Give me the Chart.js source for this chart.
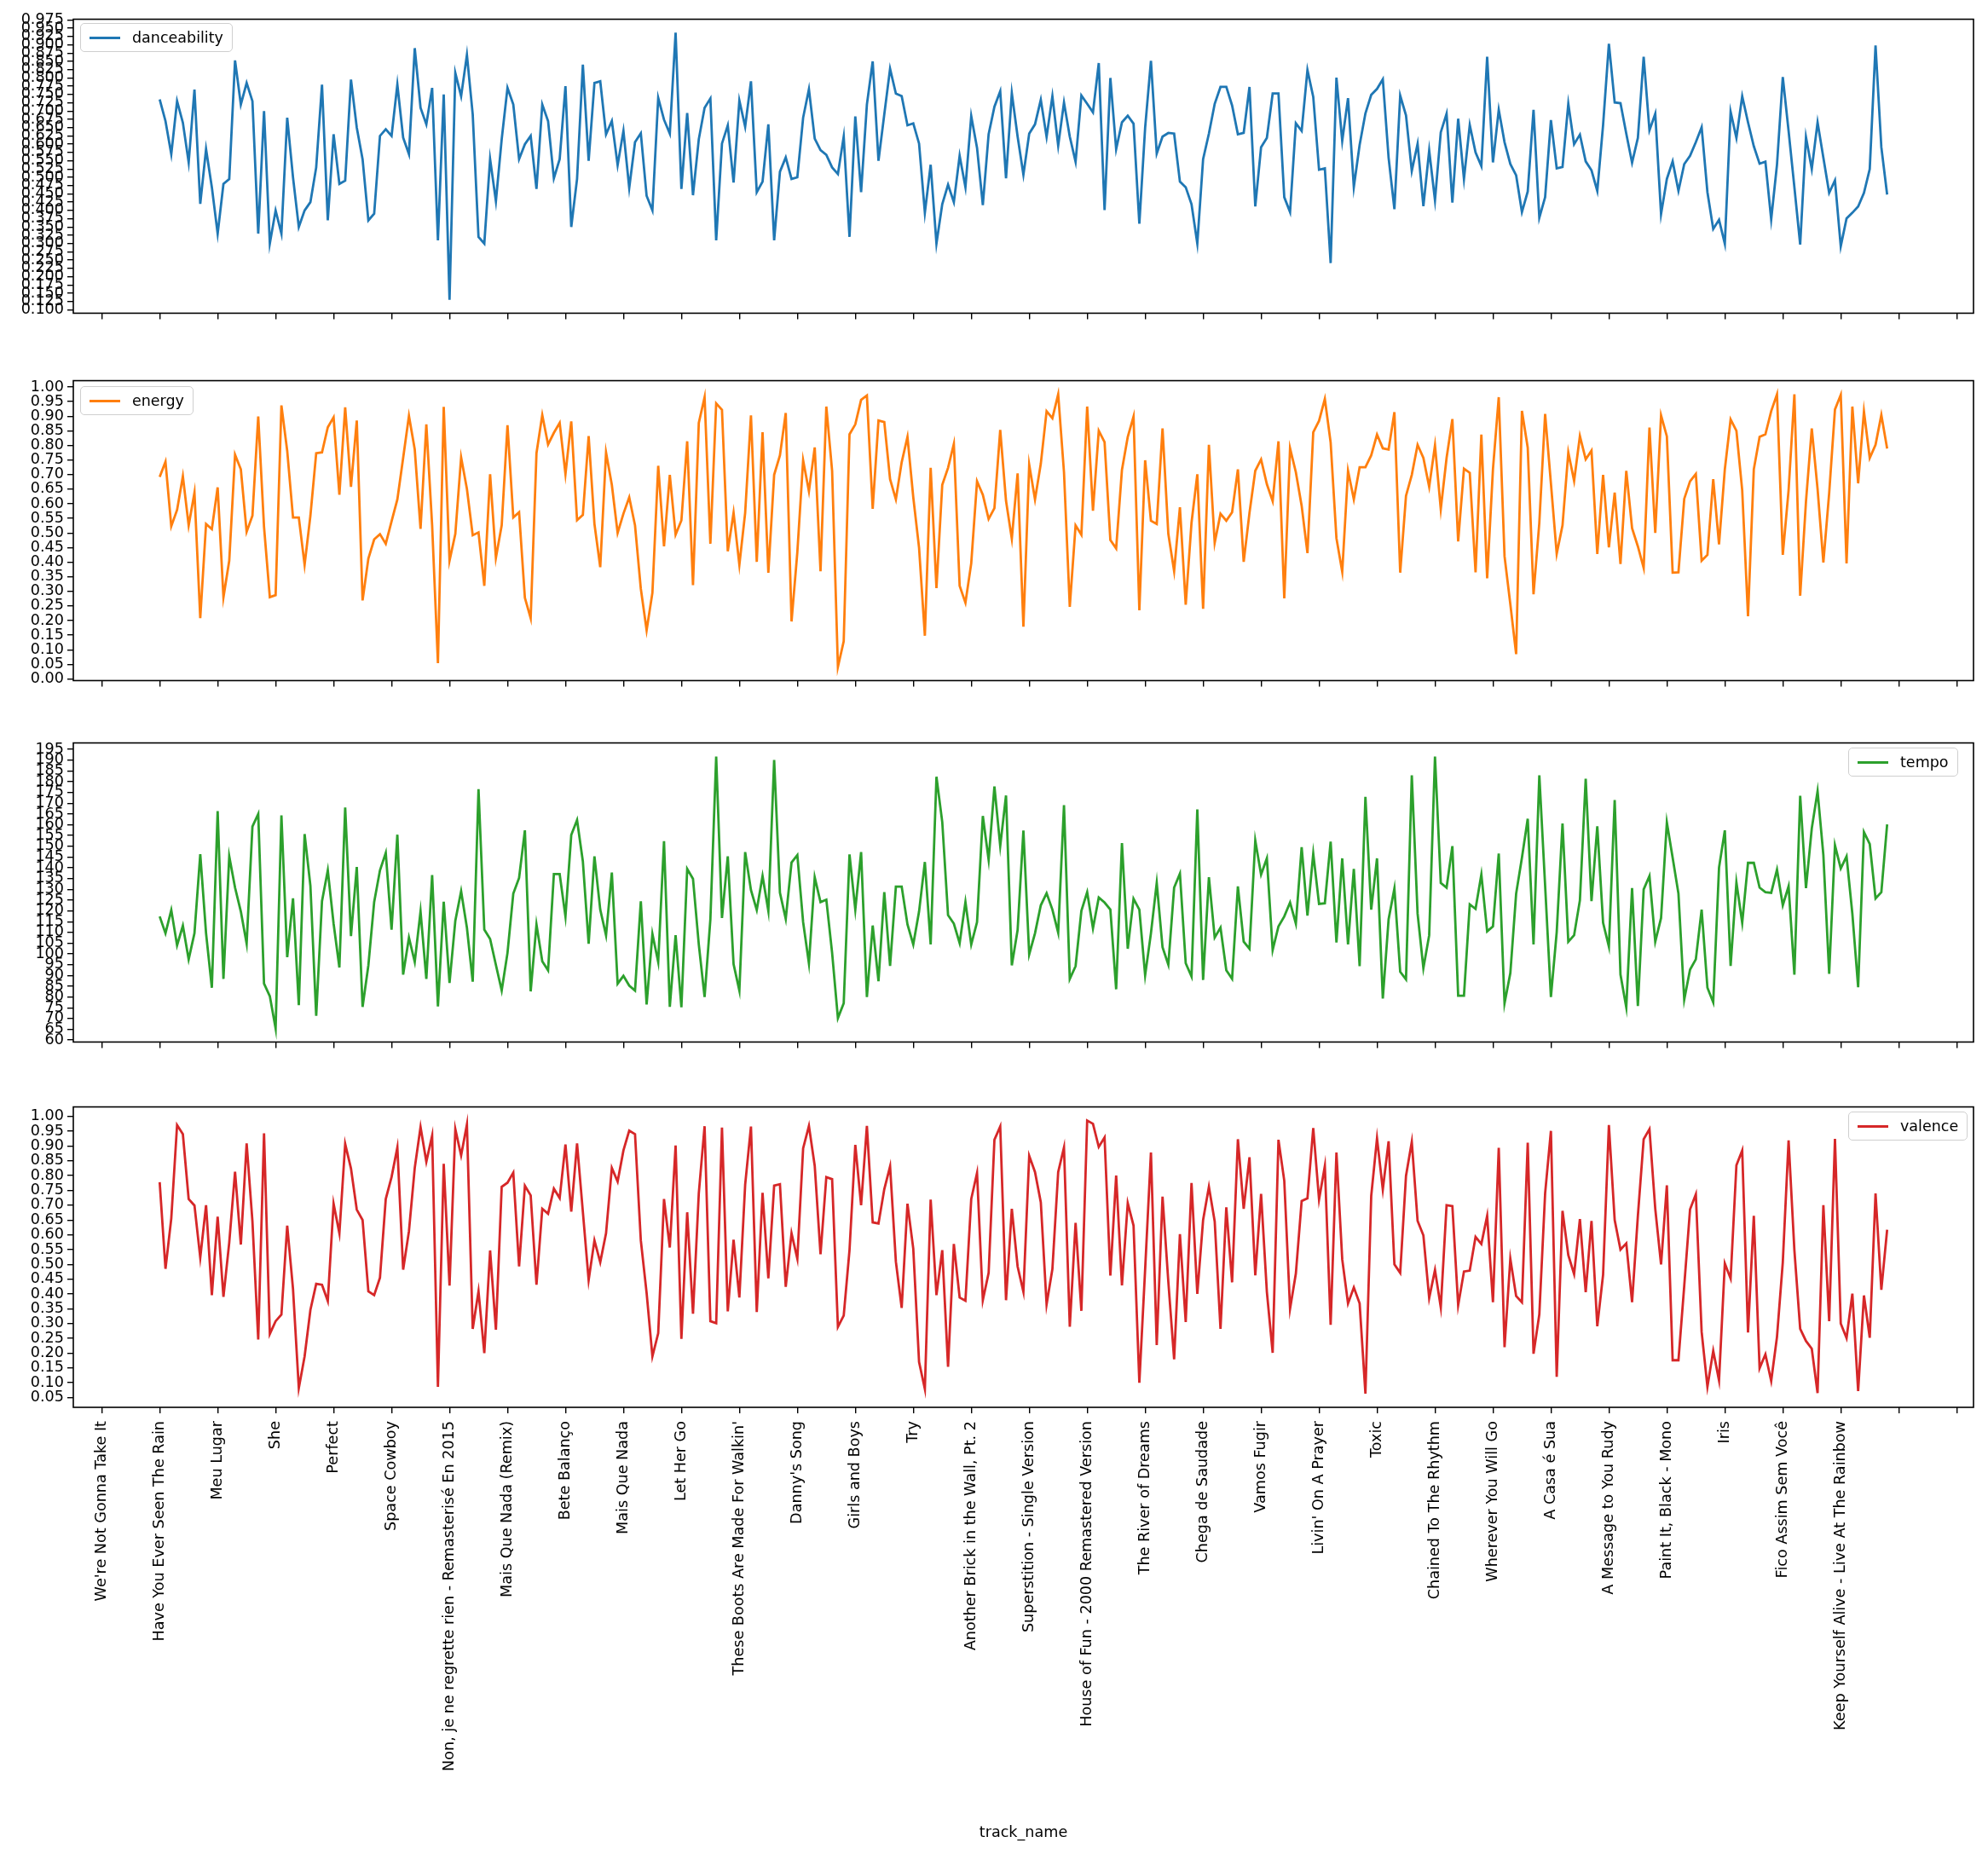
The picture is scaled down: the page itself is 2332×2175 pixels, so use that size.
<!DOCTYPE html>
<html>
<head>
<meta charset="utf-8">
<script src="https://cdn.jsdelivr.net/npm/chart.js@4.4.1/dist/chart.umd.min.js"></script>
<style>
  body { margin: 0; background: #fff; font-family: "DejaVu Sans", sans-serif; }
  #wrap { position: relative; width: 2332px; height: 2175px; }
  canvas { position: absolute; left: 0; }
  .legend {
    position: absolute; border: 1px solid #cfcfcf; border-radius: 5px; background: rgba(255,255,255,0.85);
    font: 17.5px "DejaVu Sans", sans-serif; color: #000; padding: 6px 10px; display: flex; align-items: center;
  }
  .legend span.sw { display: inline-block; width: 36px; height: 3px; margin-right: 14px; }
</style>
</head>
<body>
<div id="wrap">
  <canvas id="c0" width="2332" height="374" style="top:8px"></canvas>
  <canvas id="c1" width="2332" height="381" style="top:432px"></canvas>
  <canvas id="c2" width="2332" height="380" style="top:857px"></canvas>
  <canvas id="c3" width="2332" height="891" style="top:1284px"></canvas>
  <div class="legend" style="left:94px;top:27px"><span class="sw" style="background:#1f77b4"></span>danceability</div>
  <div class="legend" style="left:94px;top:453px"><span class="sw" style="background:#ff7f0e"></span>energy</div>
  <div class="legend" style="left:2168px;top:877px"><span class="sw" style="background:#2ca02c"></span>tempo</div>
  <div class="legend" style="left:2168px;top:1304px"><span class="sw" style="background:#d62728"></span>valence</div>
</div>
<script>
// tick labels shown every 10 tracks, starting at position -10
const trackTicks = [
  "We're Not Gonna Take It", "Have You Ever Seen The Rain", "Meu Lugar", "She", "Perfect", "Space Cowboy",
  "Non, je ne regrette rien - Remasterisé En 2015", "Mais Que Nada (Remix)", "Bete Balanço", "Mais Que Nada",
  "Let Her Go", "These Boots Are Made For Walkin'", "Danny's Song", "Girls and Boys", "Try",
  "Another Brick in the Wall, Pt. 2", "Superstition - Single Version", "House of Fun - 2000 Remastered Version",
  "The River of Dreams", "Chega de Saudade", "Vamos Fugir", "Livin' On A Prayer", "Toxic", "Chained To The Rhythm",
  "Wherever You Will Go", "A Casa é Sua", "A Message to You Rudy", "Paint It, Black - Mono", "Iris",
  "Fico Assim Sem Você", "Keep Yourself Alive - Live At The Rainbow"
];
const tickPositions = [-10,0,10,20,30,40,50,60,70,80,90,100,110,120,130,140,150,160,170,180,190,200,210,220,230,240,250,260,270,280,290,300,310];

const danceability = [
0.735,0.67,0.57,0.73,0.665,0.545,0.765,0.42,0.585,0.47,0.33,0.48,0.495,0.853,0.72,0.785,0.73,0.33,0.70,0.30,
0.40,0.33,0.68,0.50,0.35,0.40,0.425,0.53,0.78,0.37,0.63,0.48,0.49,0.795,0.65,0.555,0.37,0.39,0.625,0.645,
0.625,0.78,0.62,0.57,0.89,0.71,0.66,0.77,0.31,0.75,0.13,0.815,0.745,0.87,0.69,0.32,0.30,0.555,
0.428,0.615,0.77,0.72,0.555,0.60,0.625,0.465,0.72,0.67,0.497,0.555,0.775,0.35,0.495,0.84,0.55,0.785,0.79,0.63,
0.67,0.537,0.64,0.468,0.606,0.633,0.444,0.40,0.74,0.674,0.632,0.937,0.465,0.694,0.446,0.615,0.71,0.738,0.31,0.602,
0.657,0.484,0.732,0.653,0.79,0.455,0.487,0.66,0.31,0.517,0.56,0.495,0.50,0.68,0.766,0.617,0.582,0.568,0.53,0.51,
0.623,0.32,0.684,0.455,0.72,0.85,0.55,
0.69,0.828,0.753,0.745,0.657,0.663,0.602,0.393,0.538,0.30,0.419,0.478,0.425,0.565,0.47,0.685,0.589,0.416,0.63,0.713,
0.76,0.497,0.754,0.623,0.508,0.632,0.66,0.734,0.622,0.745,0.596,0.726,0.623,0.547,0.747,0.722,0.696,0.845,0.401,0.80,
0.585,0.666,0.686,0.662,0.36,0.65,0.852,0.572,0.623,0.634,0.632,0.487,0.47,0.419,0.30,0.555,0.632,0.722,0.773,0.773,
0.717,0.63,0.634,0.773,0.412,0.591,0.619,0.753,0.753,
0.44,0.395,0.663,0.64,0.824,0.743,0.523,0.527,0.241,0.801,0.61,0.739,0.471,0.598,0.693,0.749,0.767,0.796,0.559,0.404,
0.747,0.687,0.519,0.601,0.413,0.581,0.431,0.636,0.692,0.424,0.677,0.495,0.658,0.575,0.534,0.864,0.545,0.704,0.606,0.54,
0.506,0.395,0.457,0.704,0.378,0.44,0.673,0.527,0.531,0.722,0.60,0.629,0.548,0.521,0.459,0.658,0.903,0.726,0.724,0.632,
0.544,0.619,0.864,0.642,0.692,0.389,0.495,0.548,0.459,0.54,0.565,0.606,0.651,0.455,0.344,0.372,0.299,0.698,0.619,0.745,
0.666,0.594,0.541,0.547,0.373,0.538,0.803,0.64,0.47,0.297,0.621,0.525,0.666,0.559,0.453,0.491,0.292,0.376,0.393,0.412,
0.453,0.525,0.898,0.591,0.448
];

const energy = [
0.692,0.744,0.523,0.579,0.694,0.526,0.638,0.208,0.531,0.513,0.656,0.280,0.405,0.768,0.718,0.504,0.559,0.899,0.521,0.280,
0.287,0.937,0.781,0.553,0.553,0.391,0.559,0.773,0.776,0.862,0.896,0.631,0.930,0.658,0.885,0.269,0.412,0.478,0.496,0.463,
0.540,0.615,0.757,0.901,0.786,0.514,0.872,0.526,0.054,0.932,0.405,0.497,0.759,0.651,0.492,0.502,0.319,0.701,0.415,0.526,
0.869,0.553,0.571,0.278,0.208,0.773,0.904,0.803,0.843,0.877,0.702,0.882,0.544,0.562,0.832,0.531,0.383,0.776,0.665,0.500,
0.566,0.622,0.526,0.309,0.167,0.295,0.730,0.454,0.699,0.494,0.543,0.814,0.321,0.877,0.965,0.463,0.944,0.922,0.437,0.569,
0.391,0.569,0.903,0.401,0.845,0.364,0.699,0.766,0.911,0.197,0.434,0.749,0.643,0.793,0.369,0.933,0.713,0.041,0.129,0.838,
0.872,0.956,0.971,0.583,0.885,0.880,0.684,0.615,0.742,0.829,0.622,0.449,0.148,0.723,0.311,0.665,0.723,0.805,0.319,0.261,
0.396,0.677,0.631,0.548,0.585,0.853,0.610,0.480,0.704,
0.179,0.734,0.615,0.737,0.917,0.893,0.975,0.708,0.247,0.526,0.494,0.933,0.576,0.850,0.811,0.476,0.447,0.716,0.829,0.899,
0.235,0.749,0.542,0.531,0.858,0.497,0.369,0.588,0.254,0.535,0.701,0.240,0.802,0.466,0.566,0.542,0.571,0.718,0.401,0.569,
0.713,0.752,0.667,0.609,0.814,0.276,0.790,0.708,0.593,0.431,0.845,0.884,0.959,0.810,0.482,0.367,0.713,0.615,0.725,0.725,
0.766,0.837,0.790,0.786,0.914,0.364,0.627,0.699,0.802,0.757,0.658,0.800,0.582,0.757,0.890,0.471,0.720,0.706,0.365,0.837,
0.345,0.718,0.965,0.420,0.256,0.085,0.918,0.792,0.290,0.535,0.908,0.670,0.429,0.526,0.776,0.678,0.832,0.752,0.782,0.428,
0.699,0.451,0.638,0.394,0.713,0.516,0.454,0.380,0.861,0.500,0.903,0.831,0.364,0.365,0.617,0.677,0.702,0.405,0.425,0.684,
0.461,0.718,0.889,0.850,0.646,0.215,0.718,0.829,0.838,0.917,0.975,0.425,0.646,0.975,0.285,0.608,0.858,0.651,0.399,0.636,
0.923,0.973,0.396,0.933,0.670,0.916,0.757,0.802,0.904,0.789
];

const tempo = [
117.4,109.6,120.4,104.0,113.1,97.5,109.6,146.3,109.6,84.3,166.3,88.4,145.3,130.8,119.7,104.8,159.2,165.0,86.2,80.4,
65.4,164.4,98.5,125.8,76.2,155.7,131.7,71.3,124.5,138.8,114.1,93.7,168.0,108.3,140.4,75.4,94.7,124.1,138.8,146.9,
111.3,155.4,90.4,107.6,96.3,119.7,88.4,136.6,75.6,124.3,86.5,115.4,129.1,112.2,87.1,176.5,111.3,107.0,94.9,83.0,
100.5,128.0,135.3,157.4,82.6,113.7,96.6,92.4,137.1,137.1,117.4,155.3,162.2,143.0,104.7,145.3,120.6,108.6,137.8,86.2,
89.8,85.3,83.0,124.5,76.5,109.3,96.2,152.4,75.4,108.7,75.2,139.5,134.9,104.4,80.0,116.1,191.7,116.7,145.3,95.3,
83.0,147.3,129.7,120.4,136.2,120.0,190.1,128.4,116.3,142.5,145.9,114.8,95.6,135.6,124.1,125.2,100.5,70.2,77.1,146.2,
120.6,147.3,80.0,113.2,87.3,128.7,94.4,131.3,131.3,113.7,104.4,119.7,142.7,104.4,182.3,161.3,118.0,114.1,105.0,124.1,
104.4,114.8,164.1,143.7,177.8,150.1,173.6,94.7,111.1,157.3,99.8,
109.6,122.6,128.2,120.6,109.9,169.1,88.4,94.3,120.0,128.7,111.9,126.2,123.9,120.6,83.6,151.5,102.4,125.6,120.6,90.1,
109.6,133.0,103.1,95.0,130.8,137.3,95.7,89.5,167.1,87.9,135.6,107.6,112.2,92.4,88.4,131.4,105.7,102.4,152.7,136.9,
144.4,101.8,112.8,117.4,123.9,114.1,149.6,117.8,146.6,123.2,123.5,152.2,105.3,144.4,104.4,139.5,94.3,173.0,120.6,144.4,
79.3,116.1,130.4,91.7,88.2,183.0,118.7,93.4,108.7,191.7,133.0,130.8,150.1,80.6,80.6,123.0,120.9,136.9,110.5,112.8,
146.6,77.1,91.1,128.0,144.7,162.8,104.4,183.0,131.7,80.0,110.2,160.6,105.7,108.7,124.9,181.4,124.5,159.3,114.5,103.4,
171.5,90.4,75.2,130.6,75.8,130.0,136.2,105.7,116.7,161.1,144.7,128.0,78.8,92.7,97.5,120.6,84.3,77.5,140.1,157.4,
94.4,133.2,114.5,142.3,142.3,130.8,128.7,128.4,139.2,122.6,131.4,90.4,173.5,130.6,158.3,175.6,145.9,90.8,150.5,139.7,
145.3,118.7,84.5,156.6,151.1,125.8,128.7,160.2
];

const valence = [
0.778,0.485,0.655,0.971,0.940,0.721,0.699,0.523,0.700,0.396,0.661,0.390,0.574,0.813,0.567,0.909,0.645,0.246,0.943,0.265,
0.308,0.330,0.631,0.417,0.082,0.189,0.346,0.434,0.431,0.376,0.705,0.605,0.907,0.824,0.685,0.650,0.409,0.396,0.455,0.721,
0.795,0.895,0.482,0.612,0.826,0.964,0.847,0.935,0.086,0.840,0.428,0.957,0.868,0.973,0.282,0.409,0.200,0.547,0.279,0.762,
0.776,0.810,0.493,0.766,0.733,0.431,0.688,0.671,0.756,0.724,0.905,0.678,0.909,0.678,0.447,0.581,0.507,0.605,0.826,0.780,
0.885,0.952,0.940,0.581,0.403,0.189,0.267,0.721,0.557,0.902,0.248,0.676,0.333,0.740,0.967,0.308,0.301,0.962,0.341,0.583,
0.388,0.769,0.966,0.339,0.742,0.453,0.766,0.771,0.424,0.605,0.519,0.892,0.968,0.833,0.534,0.795,0.788,0.289,0.327,0.548,
0.904,0.700,0.968,0.642,0.638,0.754,0.831,0.509,0.353,0.705,0.553,0.170,0.079,0.719,0.396,0.548,0.154,0.569,0.388,0.377,
0.721,0.809,0.379,0.471,0.921,0.966,0.379,0.688,0.493,0.407,0.867,
0.812,0.710,0.365,0.484,0.812,0.895,0.289,0.640,0.343,0.986,0.975,0.897,0.929,0.462,0.800,0.429,0.707,0.631,0.100,0.484,
0.878,0.227,0.729,0.441,0.179,0.602,0.305,0.775,0.400,0.650,0.762,0.645,0.282,0.693,0.439,0.923,0.688,0.862,0.463,0.738,
0.407,0.201,0.921,0.783,0.350,0.469,0.714,0.723,0.961,0.719,0.832,0.296,0.878,0.517,0.368,0.422,0.368,0.063,0.731,0.926,
0.753,0.916,0.500,0.471,0.799,0.914,0.647,0.598,0.386,0.481,0.355,0.700,0.697,0.362,0.476,0.479,0.593,0.569,0.664,0.372,
0.894,0.220,0.519,0.393,0.372,0.911,0.198,0.331,0.740,0.951,0.120,0.681,0.531,0.467,0.653,0.406,0.647,0.291,0.465,0.971,
0.650,0.550,0.571,0.372,0.664,0.923,0.957,0.688,0.500,0.767,0.176,0.176,0.428,0.686,0.737,0.272,0.086,0.208,0.108,0.503,
0.452,0.835,0.885,0.270,0.664,0.149,0.196,0.106,0.255,0.507,0.919,0.548,0.282,0.241,0.215,0.065,0.700,0.308,0.924,0.300,
0.251,0.401,0.072,0.395,0.252,0.740,0.414,0.617
];

const TICK_FONT = { family: 'DejaVu Sans', size: 17.6 };
const AXIS_LEFT = 86;

// black frame on all four sides like matplotlib spines
const framePlugin = {
  id: 'frame',
  afterDraw(chart) {
    const a = chart.chartArea, ctx = chart.ctx;
    ctx.save();
    ctx.strokeStyle = '#000';
    ctx.lineWidth = 1.6;
    ctx.strokeRect(a.left, a.top, a.right - a.left, a.bottom - a.top);
    ctx.restore();
  }
};

function makePanel(canvasId, values, color, opts) {
  const n = values.length;
  const lo = Math.min(...values), hi = Math.max(...values);
  const pad = (hi - lo) * 0.05;
  const xPad = (n - 1) * 0.05;
  const last = !!opts.last;

  return new Chart(document.getElementById(canvasId), {
    type: 'line',
    data: {
      datasets: [{
        data: values.map((v, i) => ({ x: i, y: v })),
        borderColor: color,
        borderWidth: 2.8,
        pointRadius: 0,
        tension: 0,
        fill: false
      }]
    },
    options: {
      responsive: false,
      animation: false,
      devicePixelRatio: 1,
      layout: { padding: { top: 10, right: 17, left: 0, bottom: 0 } },
      plugins: { legend: { display: false }, tooltip: { enabled: false } },
      scales: {
        x: {
          type: 'linear',
          min: -xPad,
          max: n - 1 + xPad,
          grid: { drawOnChartArea: false, drawTicks: true, tickLength: 7, color: '#000', lineWidth: 1.4 },
          border: { display: false },
          afterBuildTicks: s => { s.ticks = tickPositions.map(v => ({ value: v })); },
          afterFit: s => { s.height = last ? 524 : 10; },
          ticks: {
            display: last,
            autoSkip: false,
            maxRotation: 90,
            minRotation: 90,
            padding: 9,
            color: '#000',
            font: TICK_FONT,
            callback: v => trackTicks[(v + 10) / 10] || ''
          },
          title: {
            display: last,
            text: 'track_name',
            color: '#000',
            font: TICK_FONT,
            padding: { top: 0, bottom: 14 }
          }
        },
        y: {
          min: lo - pad,
          max: hi + pad,
          grid: { drawOnChartArea: false, drawTicks: true, tickLength: 7, color: '#000', lineWidth: 1.4 },
          border: { display: false },
          afterBuildTicks: s => {
            const ticks = [];
            const k0 = Math.ceil((s.min - 1e-9) / opts.step), k1 = Math.floor((s.max + 1e-9) / opts.step);
            for (let k = k0; k <= k1; k++) ticks.push({ value: +(k * opts.step).toFixed(6) });
            s.ticks = ticks;
          },
          afterFit: s => { s.width = AXIS_LEFT; },
          ticks: {
            autoSkip: false,
            padding: 4,
            color: '#000',
            font: TICK_FONT,
            callback: v => v.toFixed(opts.decimals)
          }
        }
      }
    },
    plugins: [framePlugin]
  });
}

makePanel('c0', danceability, '#1f77b4', { step: 0.025, decimals: 3 });
makePanel('c1', energy, '#ff7f0e', { step: 0.05, decimals: 2 });
makePanel('c2', tempo, '#2ca02c', { step: 5, decimals: 0 });
makePanel('c3', valence, '#d62728', { step: 0.05, decimals: 2, last: true });
</script>
</body>
</html>
